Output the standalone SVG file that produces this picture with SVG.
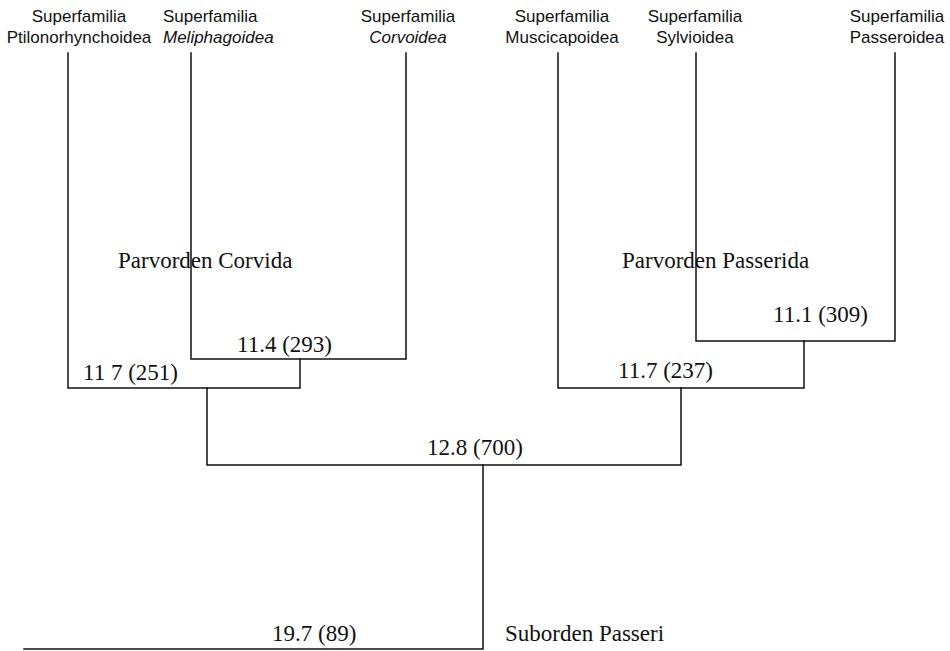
<svg xmlns="http://www.w3.org/2000/svg" width="950" height="651" viewBox="0 0 950 651">
<style>
.hd{font-family:"Liberation Sans",Arial,sans-serif;font-size:17px;fill:#111;text-anchor:middle}
.it{font-style:italic}
.lb{font-family:"Liberation Serif","Times New Roman",serif;font-size:23px;fill:#111}
.ln{stroke:#111;stroke-width:1.5;fill:none;stroke-linecap:square}
</style>
<rect width="950" height="651" fill="#fff"/>
<g id="ptilonorhynchoidea">
<text class="hd" x="79" y="22">Superfamilia</text>
<text class="hd" x="79" y="43">Ptilonorhynchoidea</text>
</g>
<g id="meliphagoidea">
<text class="hd" x="163" y="22" style="text-anchor:start">Superfamilia</text>
<text class="hd it" x="163" y="43" style="text-anchor:start">Meliphagoidea</text>
</g>
<g id="corvoidea">
<text class="hd" x="408" y="22">Superfamilia</text>
<text class="hd it" x="408" y="43">Corvoidea</text>
</g>
<g id="muscicapoidea">
<text class="hd" x="562" y="22">Superfamilia</text>
<text class="hd" x="562" y="43">Muscicapoidea</text>
</g>
<g id="sylvioidea">
<text class="hd" x="695" y="22">Superfamilia</text>
<text class="hd" x="695" y="43">Sylvioidea</text>
</g>
<g id="passeroidea">
<text class="hd" x="897" y="22">Superfamilia</text>
<text class="hd" x="897" y="43">Passeroidea</text>
</g>
<g id="connectors">
<path class="ln" d="M68,53 V388 H300 V359"/>
<path class="ln" d="M191,53 V359 H406 V53"/>
<path class="ln" d="M207,388 V465 H681 V388"/>
<path class="ln" d="M483,465 V649 H24"/>
<path class="ln" d="M558,53 V388 H804 V341"/>
<path class="ln" d="M696,53 V341 H895 V53"/>
</g>
<g id="corvida">
<text class="lb" x="118" y="268">Parvorden Corvida</text>
</g>
<g id="passerida">
<text class="lb" x="622" y="268">Parvorden Passerida</text>
</g>
<g id="passeri">
<text class="lb" x="505" y="641">Suborden Passeri</text>
</g>
<g id="labels">
<text class="lb" x="237" y="352">11.4 (293)</text>
<text class="lb" x="83" y="380">11 7 (251)</text>
<text class="lb" x="427" y="455">12.8 (700)</text>
<text class="lb" x="618" y="378">11.7 (237)</text>
<text class="lb" x="773" y="322">11.1 (309)</text>
<text class="lb" x="272" y="641">19.7 (89)</text>
</g>
</svg>
